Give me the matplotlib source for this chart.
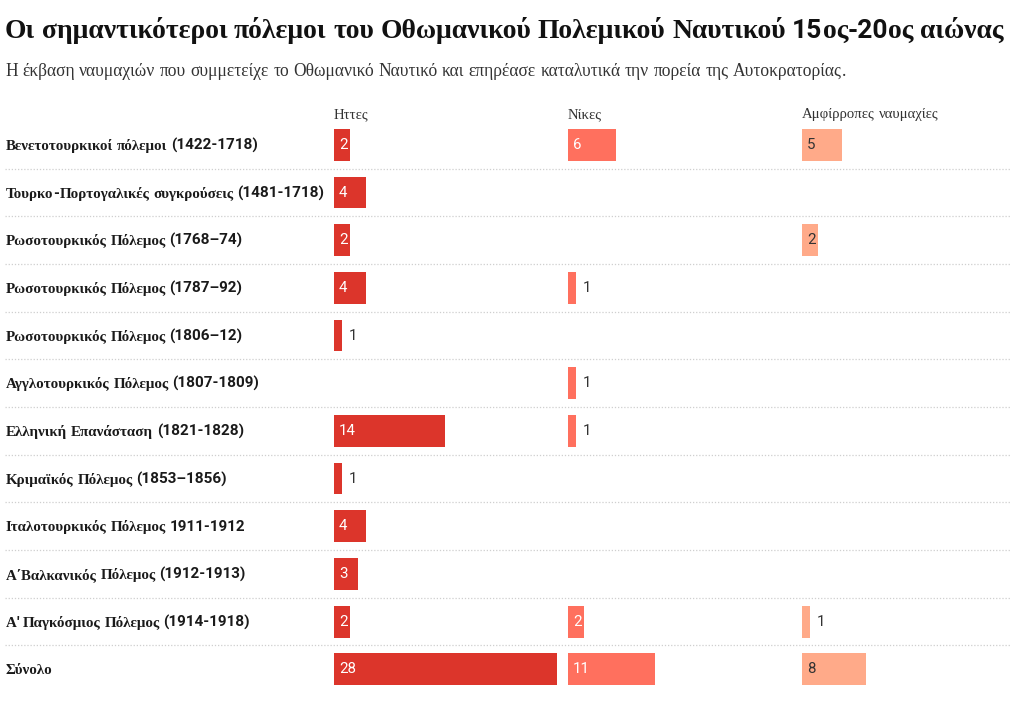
import re
import numpy as np
import matplotlib
matplotlib.use("Agg")
import matplotlib.pyplot as plt

# ---------------- data ----------------
wars = [
    "Βενετοτουρκικοί πόλεμοι (1422-1718)",
    "Τουρκο-Πορτογαλικές συγκρούσεις (1481-1718)",
    "Ρωσοτουρκικός Πόλεμος (1768–74)",
    "Ρωσοτουρκικός Πόλεμος (1787–92)",
    "Ρωσοτουρκικός Πόλεμος (1806–12)",
    "Αγγλοτουρκικός Πόλεμος (1807-1809)",
    "Ελληνική Επανάσταση (1821-1828)",
    "Κριμαϊκός Πόλεμος (1853–1856)",
    "Ιταλοτουρκικός Πόλεμος 1911-1912",
    "Α΄Βαλκανικός Πόλεμος (1912-1913)",
    "Α' Παγκόσμιος Πόλεμος (1914-1918)",
    "Σύνολο",
]
defeats = [2, 4, 2, 4, 1, 0, 14, 1, 4, 3, 2, 28]
victories = [6, 0, 0, 1, 0, 1, 1, 0, 0, 0, 2, 11]
draws = [5, 0, 2, 0, 0, 0, 0, 0, 0, 0, 1, 8]
series_names = ["Ηττες", "Νίκες", "Αμφίρροπες ναυμαχίες"]
series_values = [defeats, victories, draws]

title = "Οι σημαντικότεροι πόλεμοι του Οθωμανικού Πολεμικού Ναυτικού 15ος-20ος αιώνας"
subtitle = ("Η έκβαση ναυμαχιών που συμμετείχε το Οθωμανικό Ναυτικό και επηρέασε "
            "καταλυτικά την πορεία της Αυτοκρατορίας.")

# ---------------- style ----------------
colors = ["#dc352b", "#ff705e", "#ffaa89"]
inside_text = ["white", "white", "#333333"]
W, H, DPI = 1011, 706, 100
SERIF = "Liberation Serif"
SANS = "Roboto"
PX_PER_UNIT = 7.95
col_left = [334, 568, 802]
col_width = 234
top_px, row_h = 121, 47.67
n = len(wars)
bottom_px = top_px + row_h * n

fig = plt.figure(figsize=(W / DPI, H / DPI), dpi=DPI)
fig.patch.set_facecolor("white")
renderer = fig.canvas.get_renderer()

GREEK = re.compile(r"[\u0370-\u03FF\u1F00-\u1FFF]")
TOK = re.compile(r" +|[\u0370-\u03FF\u1F00-\u1FFF]+|[^ \u0370-\u03FF\u1F00-\u1FFF]+")


def pt2px(pt):
    return pt * DPI / 72.0


def draw_mixed(x, y, s, size, weight="normal", color="#222222", all_serif=False,
               space=0.25, gap=0.0, sans_size=None):
    """Draw text with Greek runs in serif and other runs in sans (browser fallback look).
    x, y in pixels from top-left, y = baseline."""
    for tok in TOK.findall(s):
        if tok[0] == " ":
            x += len(tok) * space * pt2px(size)
            continue
        greek = all_serif or bool(GREEK.match(tok[0]))
        fam = SERIF if greek else SANS
        fs = size if (greek or sans_size is None) else sans_size
        t = fig.text(x / W, 1 - y / H, tok, fontfamily=fam, fontsize=fs,
                     fontweight=weight, color=color, ha="left", va="baseline")
        x += t.get_window_extent(renderer).width + gap * pt2px(size)
    return x


# background axes for separators
ax_bg = fig.add_axes([0, (H - bottom_px) / H, 1, (bottom_px - top_px) / H])
ax_bg.set_xlim(0, W)
ax_bg.set_ylim(n - 0.5, -0.5)
ax_bg.axis("off")
ax_bg.hlines(np.arange(n - 1) + 0.5, 5, W, colors="#cfcfcf", linewidth=0.9,
             linestyles=(0, (1, 1.5)))

# bar columns
for ci, (vals, col) in enumerate(zip(series_values, colors)):
    left = col_left[ci]
    width = min(col_width, W - left)
    ax = fig.add_axes([left / W, (H - bottom_px) / H, width / W, (bottom_px - top_px) / H])
    ax.set_xlim(0, width / PX_PER_UNIT)
    ax.set_ylim(n - 0.5, -0.5)
    ax.axis("off")
    ys = np.arange(n)
    v = np.array(vals, dtype=float)
    mask = v > 0
    ax.barh(ys[mask], v[mask], height=0.67, color=col, linewidth=0)
    for y, val in zip(ys[mask], v[mask]):
        if val >= 2:
            ax.annotate(f"{int(val)}", (0, y), xytext=(5 * 72 / DPI, 0),
                        textcoords="offset points", ha="left", va="center",
                        fontfamily=SANS, fontsize=10.8, color=inside_text[ci])
        else:
            ax.annotate(f"{int(val)}", (val, y), xytext=(7 * 72 / DPI, 0),
                        textcoords="offset points", ha="left", va="center",
                        fontfamily=SANS, fontsize=10.8, color="#333333")
    # header
    draw_mixed(left, 118, series_names[ci], 10.6, "normal", "#333333", all_serif=True)

# row labels
for i, lab in enumerate(wars):
    yc = top_px + row_h * (i + 0.5)
    draw_mixed(6, yc + 5, lab, 10.8, "bold", "#1a1a1a", gap=0.0, sans_size=11.0)

# title & subtitle
draw_mixed(5, 38, title, 19.9, "bold", "#111111", space=0.24, sans_size=19.0)
draw_mixed(5, 76, subtitle, 12.65, "normal", "#333333", all_serif=True)

fig.savefig("out.png", dpi=DPI, facecolor="white")
